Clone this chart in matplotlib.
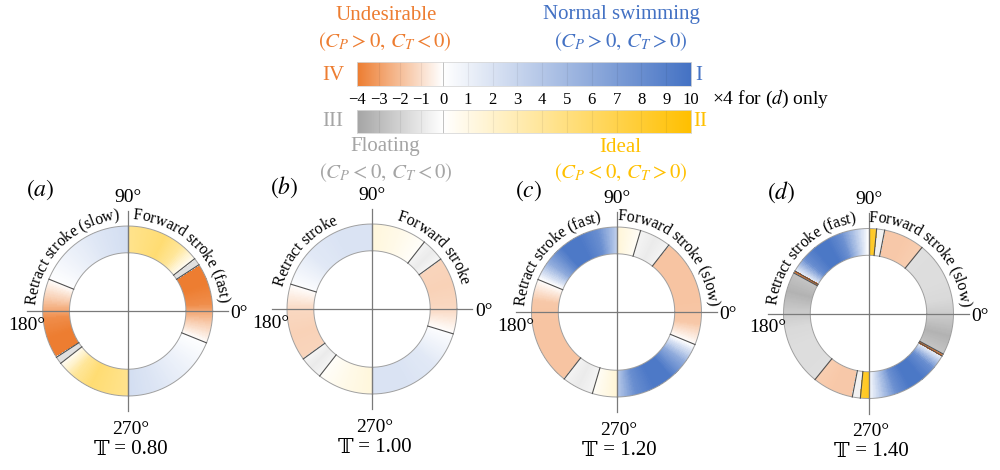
import numpy as np
import matplotlib
matplotlib.use('Agg')
import matplotlib.pyplot as plt
from matplotlib.colors import LinearSegmentedColormap
from matplotlib.font_manager import FontProperties

plt.rcParams['font.family'] = 'serif'
plt.rcParams['font.serif'] = ['Liberation Serif', 'DejaVu Serif']
plt.rcParams['mathtext.fontset'] = 'stix'

# quadrant colours: I normal swimming, II ideal, III floating, IV undesirable
BLUE = '#4472C4'
GOLD = '#FFC000'
GREY = '#A5A5A5'
ORANGE = '#ED7D31'

cmaps = {
    'I': LinearSegmentedColormap.from_list('q1', ['white', BLUE]),
    'II': LinearSegmentedColormap.from_list('q2', ['white', GOLD]),
    'III': LinearSegmentedColormap.from_list('q3', ['white', GREY]),
    'IV': LinearSegmentedColormap.from_list('q4', ['white', ORANGE]),
}
# |value| at which each quadrant colour saturates
spans = {'I': 10, 'II': 10, 'III': 4, 'IV': 4}

neg_ticks = [-4, -3, -2, -1]
pos_ticks = [0, 1, 2, 3, 4, 5, 6, 7, 8, 9, 10]

titles = [r'$(a)$', r'$(b)$', r'$(c)$', r'$(d)$']
periods = ['0.80', '1.00', '1.20', '1.40']
left_labels = ['Retract stroke (slow)', 'Retract stroke',
               'Retract stroke (fast)', 'Retract stroke (fast)']
right_labels = ['Forward stroke (fast)', 'Forward stroke',
                'Forward stroke (slow)', 'Forward stroke (slow)']
value_scale = [1, 1, 1, 4]

# segments on the 90-270 deg half of each ring, the other half repeats it 180 deg on
# (start deg, end deg, quadrant, values spread evenly across the segment)
seg_a = [
    (90, 158, 'I', [2.4, 1.8, 1.0, 0.1]),
    (158, 213, 'IV', [0.0, -1.6, -3.5, -4.0, -4.0]),
    (213, 218, 'III', [-1.4, -1.4]),
    (218, 270, 'II', [0.3, 4.0, 5.5, 5.0, 4.5]),
]
seg_b = [
    (90, 163, 'I', [2.0, 2.0, 1.6, 0.2]),
    (163, 216, 'IV', [0.0, -1.2, -1.4, -1.3]),
    (216, 232, 'III', [-0.4, -0.9, -0.5]),
    (232, 270, 'II', [0.2, 0.9, 1.4]),
]
seg_c = [
    (90, 157.5, 'I', [3.5, 8.0, 9.5, 9.5, 6.0, 0.0]),
    (157.5, 232, 'IV', [0.0, -1.7, -1.8, -1.8, -1.8, -1.8]),
    (232, 253.5, 'III', [-0.5, -0.9, -0.5]),
    (253.5, 270, 'II', [0.3, 1.6]),
]
seg_d = [
    (90, 150, 'I', [0.0, 1.0, 2.0, 2.4, 2.4, 2.0, 0.3]),
    (150, 151.5, 'IV', [-1.0, -1.0]),
    (151.5, 231, 'III', [-0.65, -0.85, -0.6, -0.42, -0.38, -0.38, -0.36]),
    (231, 259, 'IV', [-0.38, -0.42, -0.42]),
    (259, 264.5, 'III', [-0.15, -0.15]),
    (264.5, 270, 'II', [2.0, 2.2]),
]
segments = [seg_a, seg_b, seg_c, seg_d]

W, H = 1000, 470
R_PX = 85.0          # outer ring radius in pixels
R_IN = 0.685         # inner radius relative to the outer one
RMAX = 1.2
centres = [(127.7, 311), (372, 309), (616.5, 312), (868.5, 313.5)]
left_mid = [135.5, 139, 138, 136]
right_mid = [46, 45, 46.5, 47]

fig = plt.figure(figsize=(W / 100, H / 100), dpi=100)
renderer = fig.canvas.get_renderer()


def px_rect(x0, y0, x1, y1):
    return [x0 / W, 1 - y1 / H, (x1 - x0) / W, (y1 - y0) / H]


def pt(ax, x, y, s, **kw):
    ax.text(np.arctan2(y, x), np.hypot(x, y), s, **kw)


def arc_text(ax, s, mid_deg, r, fp, squeeze=0.97):
    # lay the string clockwise along a circle, letters standing outward
    def width(t):
        return renderer.get_text_width_height_descent(t, fp, ismath=False)[0]
    total = width(s)
    radius_px = r * R_PX
    for i, ch in enumerate(s):
        if ch == ' ':
            continue
        pos = width(s[:i + 1]) - width(ch) / 2
        ang = np.radians(mid_deg) + squeeze * (total / 2 - pos) / radius_px
        ax.text(ang, r, ch, fontproperties=fp, rotation=np.degrees(ang) - 90,
                rotation_mode='anchor', ha='center', va='baseline')


label_fp = FontProperties(family='serif', size=11.5)
bb_family = ['DejaVu Serif', 'DejaVu Sans']

for k in range(4):
    cx, cy = centres[k]
    half = RMAX * R_PX
    ax = fig.add_axes(px_rect(cx - half, cy - half, cx + half, cy + half),
                      projection='polar')
    ax.set_ylim(0, RMAX)
    ax.set_axis_off()

    bounds = []
    for turn in (0, 180):
        for a0, a1, q, vals in segments[k]:
            n = max(2, int(round((a1 - a0) / 0.5)))
            edges = np.linspace(a0, a1, n + 1) + turn
            mids = 0.5 * (edges[1:] + edges[:-1])
            prof = np.interp(mids, np.linspace(a0, a1, len(vals)) + turn, vals)
            mag = np.abs(prof) * value_scale[k]
            ax.pcolormesh(np.radians(edges), [R_IN, 1.0], mag[None, :],
                          cmap=cmaps[q], vmin=0, vmax=spans[q], shading='flat')
            bounds.append(a0 + turn)

    th = np.linspace(0, 2 * np.pi, 361)
    ax.plot(th, np.full_like(th, 1.0), color='#a0a0a0', lw=0.7)
    ax.plot(th, np.full_like(th, R_IN), color='#a0a0a0', lw=0.7)
    for b in bounds:
        ax.plot([np.radians(b)] * 2, [R_IN, 1.0], color='#505050', lw=0.8)

    # cross-hair through the ring
    for ang in (0, 90, 180, 270):
        ax.plot([np.radians(ang)] * 2, [0, 1.18], color='#7a7a7a', lw=0.9,
                clip_on=False)

    pt(ax, 0.0, 1.34, '90°', ha='center', va='center', fontsize=14)
    pt(ax, 0.03, -1.39, '270°', ha='center', va='center', fontsize=14)
    pt(ax, 1.21, -0.03, '0°', ha='left', va='center', fontsize=14)
    pt(ax, -0.97, -0.17, '180°', ha='right', va='center', fontsize=14)
    pt(ax, -1.03, 1.43, titles[k], ha='center', va='center', fontsize=17)
    pt(ax, -0.22, -1.625, '\U0001D54B', ha='right', va='center', fontsize=15,
       family=bb_family)
    pt(ax, -0.22, -1.625, ' = ' + periods[k], ha='left', va='center',
       fontsize=15)

    arc_text(ax, left_labels[k], left_mid[k], 1.08, label_fp)
    arc_text(ax, right_labels[k], right_mid[k], 1.08, label_fp)

# two-part colour bars: I / IV on top, II / III underneath
bar_rows = [(61.7, 86, 'IV', 'I'), (110, 132.7, 'III', 'II')]
for row, (y0, y1, qn, qp) in enumerate(bar_rows):
    ax_n = fig.add_axes(px_rect(357, y0, 443, y1))
    ax_p = fig.add_axes(px_rect(443, y0, 691, y1))
    xs = np.linspace(-4, 0, 200)
    ax_n.imshow(np.abs(xs)[None, :], cmap=cmaps[qn], vmin=0, vmax=4,
                extent=[-4, 0, 0, 1], aspect='auto')
    xs = np.linspace(0, 10, 400)
    ax_p.imshow(xs[None, :], cmap=cmaps[qp], vmin=0, vmax=10,
                extent=[0, 10, 0, 1], aspect='auto')
    for a, ticks in ((ax_n, neg_ticks), (ax_p, pos_ticks)):
        a.set_yticks([])
        for t in ticks[1:]:
            a.axvline(t, color='k', alpha=0.06, lw=0.8)
        for sp in a.spines.values():
            sp.set_color('#d8d8d8')
            sp.set_linewidth(0.6)
        if row == 0:
            a.set_xticks(ticks)
            a.set_xticklabels([str(t).replace('-', '\u2212') for t in ticks],
                              fontsize=12)
            a.tick_params(axis='x', length=0, pad=4)
        else:
            a.set_xticks([])
    ax_p.axvline(0, color='#404040', lw=1.3)


def ftext(x, y, s, **kw):
    fig.text(x / W, 1 - y / H, s, **kw)


ftext(386, 15, 'Undesirable', color=ORANGE, ha='center', va='center', fontsize=15)
ftext(385, 42, r'$(C_P > 0,\, C_T < 0)$', color=ORANGE, ha='center', va='center', fontsize=15)
ftext(621, 15, 'Normal swimming', color=BLUE, ha='center', va='center', fontsize=15)
ftext(621, 42, r'$(C_P > 0,\, C_T > 0)$', color=BLUE, ha='center', va='center', fontsize=15)
ftext(333, 75, 'IV', color=ORANGE, ha='center', va='center', fontsize=15)
ftext(699, 75, 'I', color=BLUE, ha='center', va='center', fontsize=15)
ftext(333, 122, 'III', color=GREY, ha='center', va='center', fontsize=15)
ftext(700, 122, 'II', color=GOLD, ha='center', va='center', fontsize=15)
ftext(385, 147, 'Floating', color=GREY, ha='center', va='center', fontsize=15)
ftext(386, 173, r'$(C_P < 0,\, C_T < 0)$', color=GREY, ha='center', va='center', fontsize=15)
ftext(620, 147, 'Ideal', color=GOLD, ha='center', va='center', fontsize=15)
ftext(621, 173, r'$(C_P < 0,\, C_T > 0)$', color=GOLD, ha='center', va='center', fontsize=15)
ftext(712, 99, r'×4 for ($d$) only', ha='left', va='center', fontsize=14)

fig.savefig('out.png', dpi=100)
